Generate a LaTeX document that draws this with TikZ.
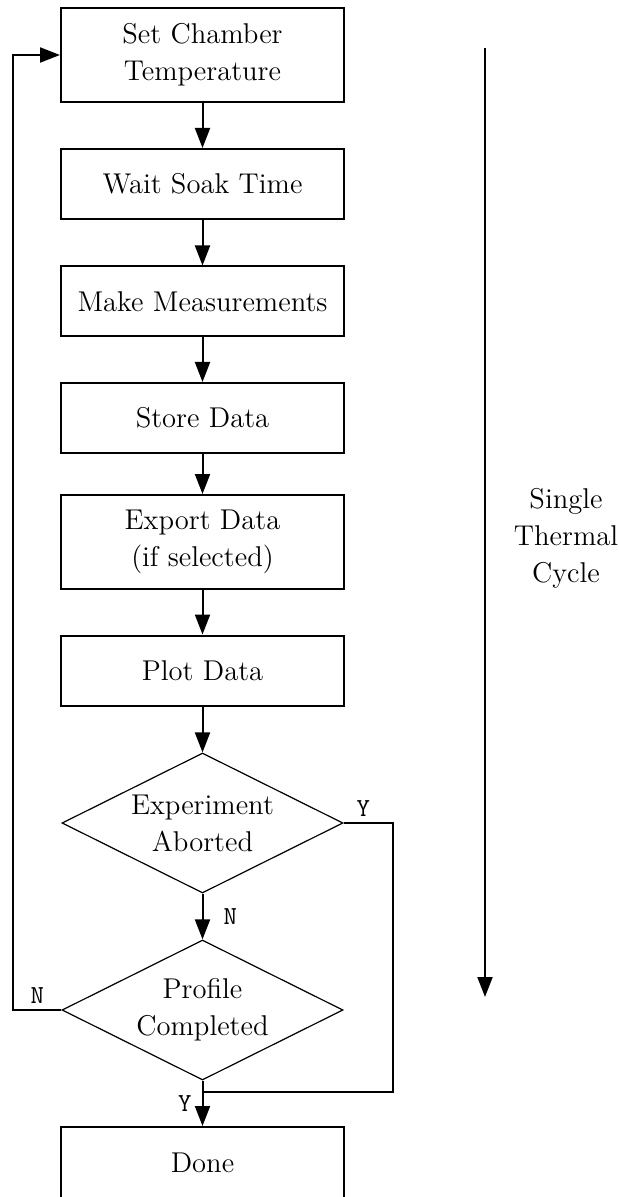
\documentclass[tikz,border=0pt]{standalone}
\usetikzlibrary{shapes.geometric,arrows.meta}

\newcommand{\flowfont}{\fontsize{14.3}{18.5}\selectfont}
\newcommand{\ynfont}{\fontsize{13}{15}\selectfont\ttfamily}

\tikzset{
  proc/.style={draw, line width=1pt, minimum width=141.5pt, minimum height=35pt,
    inner sep=0pt, align=center, font=\flowfont},
  tall/.style={minimum height=47pt},
  decide/.style={draw, diamond, aspect=2, line width=0.6pt, minimum width=140.5pt,
    minimum height=70pt, inner sep=0pt, align=center, font=\flowfont},
  flow/.style={line width=1pt, -{Triangle[width=7.5pt,length=10pt]}},
  link/.style={line width=1pt},
  yn/.style={font=\ynfont, inner sep=0pt},
}

\begin{document}
\begin{tikzpicture}[x=0.5pt, y=-0.5pt]
  \useasboundingbox (0,0) rectangle (618,1197);
  \clip (0,0) rectangle (618,1197);

  % steps of one cycle
  \node[proc, tall] (set) at (202.5,55) {Set Chamber\\Temperature};
  \node[proc] (soak) at (202.5,184) {Wait Soak Time};
  \node[proc] (meas) at (202.5,301.5) {Make Measurements};
  \node[proc] (store) at (202.5,418) {Store Data};
  \node[proc, tall] (export) at (202.5,542) {Export Data\\(if selected)};
  \node[proc] (plot) at (202.5,670.5) {Plot Data};
  \node[decide] (abort) at (202.5,823) {Experiment\\Aborted};
  \node[decide] (prof) at (202.5,1010) {Profile\\Completed};
  \node[proc, minimum height=36pt] (done) at (202.5,1163) {Done};
  \coordinate (joint) at (202.5,1092);

  \draw[flow] (set) -- (soak);
  \draw[flow] (soak) -- (meas);
  \draw[flow] (meas) -- (store);
  \draw[flow] (store) -- (export);
  \draw[flow] (export) -- (plot);
  \draw[flow] (plot) -- (abort);
  \draw[flow] (abort) -- node[yn, right=10pt] {N} (prof);
  \draw[flow] (prof) -- node[yn, left=5pt, pos=0.5] {Y} (done);

  % aborted: straight to done
  \draw[link] (abort.east) -- node[yn, above=3pt, pos=0.4] {Y} ++(49,0) |- (joint);
  % not completed: back to the top
  \draw[flow] (prof.west) -- node[yn, above=3pt] {N} ++(-48,0) |- (set.west);

  % span of a single cycle
  \coordinate (cyctop) at (485,48);
  \coordinate (cycend) at (485,997);
  \draw[flow] (cyctop) -- (cycend);
  \node[font=\flowfont, align=center] (cycle) at (566,538) {Single\\Thermal\\Cycle};
\end{tikzpicture}
\end{document}
